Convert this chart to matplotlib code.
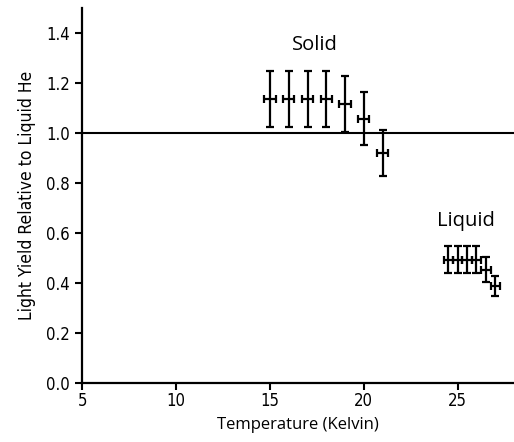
import matplotlib
matplotlib.use("Agg")
import matplotlib.pyplot as plt

solid_T = [15, 16, 17, 18, 19, 20, 21]
solid_y = [1.134, 1.134, 1.134, 1.134, 1.115, 1.056, 0.918]
solid_yerr = [0.113, 0.113, 0.113, 0.113, 0.112, 0.107, 0.092]
solid_xerr = [0.3, 0.3, 0.3, 0.3, 0.3, 0.3, 0.3]

liquid_T = [24.5, 25.0, 25.5, 26.0, 26.5, 27.0]
liquid_y = [0.492, 0.492, 0.492, 0.492, 0.452, 0.385]
liquid_yerr = [0.054, 0.054, 0.054, 0.054, 0.05, 0.04]
liquid_xerr = [0.25, 0.25, 0.25, 0.25, 0.25, 0.25]

xticks = [5, 10, 15, 20, 25]
yticks = [0.0, 0.2, 0.4, 0.6, 0.8, 1.0, 1.2, 1.4]
ytick_labels = ['0.0', '0.2', '0.4', '0.6', '0.8', '1.0', '1.2', '1.4']

cond = dict(family='DejaVu Sans', stretch='condensed')

fig = plt.figure(figsize=(5.14, 4.42), dpi=100)
ax = fig.add_axes([0.160, 0.134, 0.840, 0.849])

ax.axhline(1.0, color='black', lw=1.5, zorder=1)
for T, y, ye, xe in [(solid_T, solid_y, solid_yerr, solid_xerr),
                     (liquid_T, liquid_y, liquid_yerr, liquid_xerr)]:
    ax.errorbar(T, y, yerr=ye, xerr=xe, fmt='none', ecolor='black',
                elinewidth=1.6, capsize=2.6, capthick=1.6, zorder=3)

ax.text(17.4, 1.35, 'Solid', ha='center', va='center', fontsize=14.5, family='Open Sans')
ax.text(25.45, 0.645, 'Liquid', ha='center', va='center', fontsize=14.5, family='Open Sans')

ax.set_xlim(5, 28)
ax.set_ylim(0, 1.5)
ax.set_xticks(xticks)
ax.set_xticklabels([str(t) for t in xticks], fontsize=12, **cond)
ax.set_yticks(yticks)
ax.set_yticklabels(ytick_labels, fontsize=12, **cond)
ax.tick_params(direction='out', length=5, width=1.5)
ax.tick_params(axis='x', pad=2)
ax.tick_params(axis='y', pad=4)

for s in ['top', 'right']:
    ax.spines[s].set_visible(False)
for s in ['left', 'bottom']:
    ax.spines[s].set_linewidth(1.6)

ax.set_xlabel('Temperature (Kelvin)', fontsize=12, family='Open Sans', labelpad=5)
ax.set_ylabel('Light Yield Relative to Liquid He', fontsize=12.5, labelpad=7, **cond)

fig.savefig('out.png', dpi=100)
